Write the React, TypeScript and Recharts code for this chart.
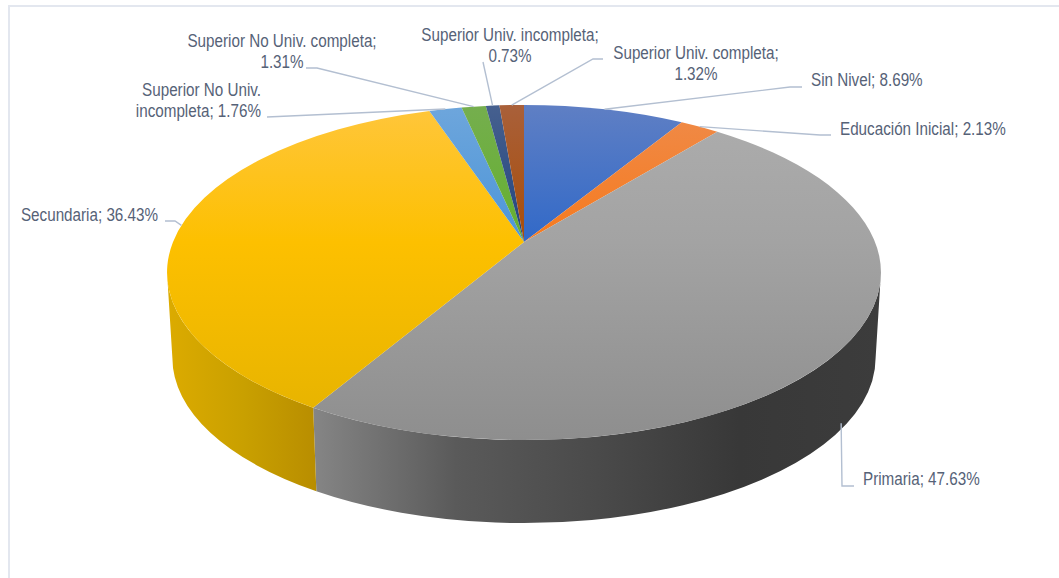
import { Pie, PieChart } from 'recharts';

const levels = [
    'Sin Nivel',
    'Educación Inicial',
    'Primaria',
    'Secundaria',
    'Superior No Univ. incompleta',
    'Superior No Univ. completa',
    'Superior Univ. incompleta',
    'Superior Univ. completa',
];
const shares = [8.69, 2.13, 47.63, 36.43, 1.76, 1.31, 0.73, 1.32];

const labelLines = [
    ['Sin Nivel; 8.69%'],
    ['Educación Inicial; 2.13%'],
    ['Primaria; 47.63%'],
    ['Secundaria; 36.43%'],
    ['Superior No Univ.', 'incompleta; 1.76%'],
    ['Superior No Univ. completa;', '1.31%'],
    ['Superior Univ. incompleta;', '0.73%'],
    ['Superior Univ. completa;', '1.32%'],
];

// top face colours: far rim, centre, near rim
const faceColors = [
    ['#5f7fc4', '#3169c8', '#3169c8'],
    ['#ef8b4a', '#f67a1e', '#f67a1e'],
    ['#adadad', '#a3a3a3', '#8e8e8e'],
    ['#ffc63c', '#fdc000', '#e4b200'],
    ['#6ea6dc', '#4c95d8', '#4c95d8'],
    ['#75ae4e', '#64b02e', '#64b02e'],
    ['#46608f', '#22447e', '#22447e'],
    ['#a9603a', '#a84d08', '#a84d08'],
];
// side wall colours, left to right
const wallColors: Record<string, string[]> = {
    Primaria: ['#858585', '#5a5a5a', '#4a4a4a', '#383838', '#3c3c3c'],
    Secundaria: ['#dcab00', '#c9a000', '#b88d00'],
};

// [elbow x, elbow y, label end x, label end y]
const leaderLayout = [
    [790, 87, 802, 87],
    [820, 135, 831, 135],
    [842, 486, 854, 486],
    [175, 221, 165, 221],
    [267, 117, 267, 117],
    [317, 68, 306, 68],
    [483, 62, 483, 62],
    [593, 59, 603, 59],
];
// [x, first baseline, anchor]
const labelLayout: [number, number, string][] = [
    [811, 86, 'start'],
    [840, 135, 'start'],
    [863, 485, 'start'],
    [158, 221, 'end'],
    [261, 96, 'end'],
    [282, 47, 'middle'],
    [510, 41, 'middle'],
    [696, 59, 'middle'],
];

const chartData = levels.map((name, i) => ({ name, value: shares[i] }));

const TILT = 0.4615; // depth squeeze of the disc
const PERSPECTIVE = 0.182;
const THICKNESS = 86;
const BASE_SCALE = 0.985;
const FAR_Y = 105;
const NEAR_Y = 440;
const WALL_FROM = 100.5;
const WALL_TO = 259.5;

const rad = (deg: number) => (deg * Math.PI) / 180;

function project(cx: number, cy: number, r: number, clock: number) {
    const u = Math.sin(rad(clock));
    const v = Math.cos(rad(clock));
    const d = 1 + PERSPECTIVE * v;
    return { x: cx + (r * u) / d, y: cy - (r * TILT * v) / d };
}

function ellipseOf(cy: number, r: number) {
    const q = 1 - PERSPECTIVE * PERSPECTIVE;
    return {
        rx: r / Math.sqrt(q),
        ry: (r * TILT) / q,
        cy: cy + (r * TILT * PERSPECTIVE) / q,
    };
}

function arcTo(cx: number, cy: number, r: number, from: number, to: number, sweep: number) {
    const e = ellipseOf(cy, r);
    const a = project(cx, cy, r, from);
    const b = project(cx, cy, r, to);
    const ang = (p: { x: number; y: number }) => Math.atan2((p.x - cx) / e.rx, -(p.y - e.cy) / e.ry);
    let diff = ((ang(b) - ang(a)) * 180) / Math.PI;
    if (sweep === 0) diff = -diff;
    diff = ((diff % 360) + 360) % 360;
    const large = diff > 180 ? 1 : 0;
    return `A ${e.rx} ${e.ry} 0 ${large} ${sweep} ${b.x} ${b.y}`;
}

function Slice3D(props: any) {
    const { cx, cy, outerRadius, startAngle, endAngle, name } = props;
    const i = levels.indexOf(name);
    const from = 90 - startAngle;
    const to = 90 - endAngle;
    const start = project(cx, cy, outerRadius, from);
    const top = `M ${cx} ${cy} L ${start.x} ${start.y} ${arcTo(cx, cy, outerRadius, from, to, 1)} Z`;

    const wallFrom = Math.max(from, WALL_FROM);
    const wallTo = Math.min(to, WALL_TO);
    const wall = wallColors[name];
    let wallPath = '';
    if (wall && wallTo > wallFrom) {
        const r2 = outerRadius * BASE_SCALE;
        const cy2 = cy + THICKNESS;
        const t0 = project(cx, cy, outerRadius, wallFrom);
        const b1 = project(cx, cy2, r2, wallTo);
        wallPath =
            `M ${t0.x} ${t0.y} ${arcTo(cx, cy, outerRadius, wallFrom, wallTo, 1)} ` +
            `L ${b1.x} ${b1.y} ${arcTo(cx, cy2, r2, wallTo, wallFrom, 0)} Z`;
    }

    const xs = name === 'Primaria' ? [314, 881] : [167, 318];
    return (
        <g>
            <defs>
                <linearGradient id={`face${i}`} gradientUnits="userSpaceOnUse" x1="0" x2="0" y1={FAR_Y} y2={NEAR_Y}>
                    <stop offset="0" stopColor={faceColors[i][0]} />
                    <stop offset="0.41" stopColor={faceColors[i][1]} />
                    <stop offset="1" stopColor={faceColors[i][2]} />
                </linearGradient>
                {wall && (
                    <linearGradient id={`wall${i}`} gradientUnits="userSpaceOnUse" x1={xs[0]} x2={xs[1]} y1="0" y2="0">
                        {wall.map((c, k) => (
                            <stop key={k} offset={k / (wall.length - 1)} stopColor={c} />
                        ))}
                    </linearGradient>
                )}
            </defs>
            {wallPath && <path d={wallPath} fill={`url(#wall${i})`} />}
            <path d={top} fill={`url(#face${i})`} />
        </g>
    );
}

function SliceLabel(props: any) {
    const { cx, cy, outerRadius, midAngle, name } = props;
    const i = levels.indexOf(name);
    const clock = 90 - midAngle;
    const onWall = clock > WALL_FROM && clock < WALL_TO;
    const rim = onWall
        ? project(cx, cy + THICKNESS - 6, outerRadius * BASE_SCALE, clock)
        : project(cx, cy, outerRadius, clock);
    const [ex, ey, lx, ly] = leaderLayout[i];
    const [tx, ty, anchor] = labelLayout[i];
    return (
        <g>
            <polyline
                points={`${rim.x},${rim.y} ${ex},${ey} ${lx},${ly}`}
                fill="none"
                stroke="#b3bfd1"
                strokeWidth={1.4}
            />
            {/* the original face is condensed, so squeeze Liberation Sans sideways */}
            <text
                transform={`translate(${tx} ${ty}) scale(0.87 1)`}
                textAnchor={anchor as any}
                fill="#566277"
                fontSize={17.5}
                fontFamily="'Liberation Sans', sans-serif"
            >
                {labelLines[i].map((line, k) => (
                    <tspan key={k} x={0} dy={k === 0 ? 0 : 21.5}>
                        {line}
                    </tspan>
                ))}
            </text>
        </g>
    );
}

export default function App() {
    return (
        <div style={{ position: 'absolute', left: 0, top: 0, width: 1059, height: 578, background: '#fff', overflow: 'hidden' }}>
            <div
                style={{
                    position: 'absolute',
                    left: 8,
                    top: 5,
                    width: 1051,
                    height: 573,
                    borderLeft: '2px solid #e3e7ef',
                    borderTop: '2px solid #e3e7ef',
                    boxSizing: 'border-box',
                }}
            />
            <div style={{ position: 'absolute', left: 0, top: 0 }}>
                <PieChart width={1059} height={578} margin={{ top: 0, right: 0, bottom: 0, left: 0 }}>
                    <Pie
                        data={chartData}
                        dataKey="value"
                        nameKey="name"
                        cx={524}
                        cy={242}
                        outerRadius={351}
                        startAngle={90}
                        endAngle={-270}
                        stroke="none"
                        shape={Slice3D}
                        label={SliceLabel}
                        labelLine={false}
                        isAnimationActive={false}
                    />
                </PieChart>
            </div>
        </div>
    );
}
